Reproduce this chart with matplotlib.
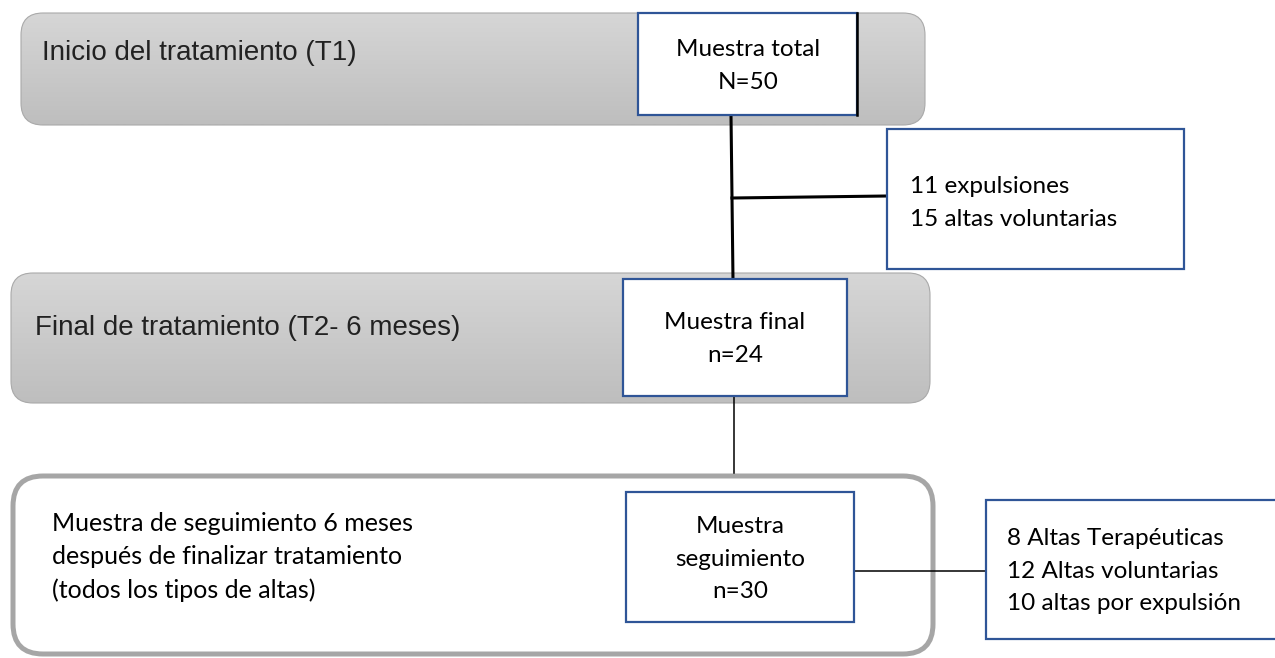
import numpy as np
import matplotlib.pyplot as plt
from matplotlib.colors import LinearSegmentedColormap
from matplotlib.patches import FancyBboxPatch, Rectangle

# sample sizes
n_total = 50
n_expulsiones = 11
n_altas_vol = 15
n_final = 24
n_seguimiento = 30
seg_terapeuticas = 8
seg_voluntarias = 12
seg_expulsion = 10

phase_labels = ['Inicio del tratamiento (T1)',
                'Final de tratamiento (T2- 6 meses)',
                'Muestra de seguimiento 6 meses\ndespués de finalizar tratamiento\n(todos los tipos de altas)']
sample_labels = [f'Muestra total\nN={n_total}',
                 f'Muestra final\nn={n_final}',
                 f'Muestra\nseguimiento\nn={n_seguimiento}']
loss_lines = [f'{n_expulsiones} expulsiones', f'{n_altas_vol} altas voluntarias']
discharge_lines = [f'{seg_terapeuticas} Altas Terapéuticas',
                   f'{seg_voluntarias} Altas voluntarias',
                   f'{seg_expulsion} altas por expulsión']

W, H = 1275, 658
fig = plt.figure(figsize=(W / 100, H / 100), dpi=100)
ax = fig.add_axes([0, 0, 1, 1])
ax.set_xlim(0, W)
ax.set_ylim(H, 0)
ax.axis('off')

arial = ['Liberation Sans', 'DejaVu Sans']
calibri = ['Lato', 'DejaVu Sans']
blue = '#2f5597'
fs = 17.5
ls = 1.68

# vertical gradient for the grey phase bands (light on top)
grad = np.linspace(0, 1, 100).reshape(-1, 1)
grey_cmap = LinearSegmentedColormap.from_list('g', ['#d6d6d6', '#bebebe'])


def grey_band(x0, y0, x1, y1):
    p = FancyBboxPatch((x0, y0), x1 - x0, y1 - y0,
                       boxstyle='round,pad=0,rounding_size=22',
                       fc='none', ec='#a9a9a9', lw=0.8, zorder=2)
    ax.add_patch(p)
    im = ax.imshow(grad, cmap=grey_cmap, extent=(x0, x1, y1, y0),
                   aspect='auto', zorder=1)
    im.set_clip_path(p)


def white_box(x0, y0, x1, y1, lw=1.6):
    ax.add_patch(Rectangle((x0, y0), x1 - x0, y1 - y0, fc='white',
                           ec=blue, lw=lw, zorder=4))


# phase bands
grey_band(21, 13, 925, 125)
grey_band(11, 273, 930, 403)
ax.add_patch(FancyBboxPatch((13, 476), 920, 178,
                            boxstyle='round,pad=0,rounding_size=30',
                            fc='white', ec='#a6a6a6', lw=3.6, zorder=2))

ax.text(42, 53, phase_labels[0], fontsize=20, family=arial,
        color='#222222', va='center', zorder=5)
ax.text(35, 328, phase_labels[1], fontsize=20, family=arial,
        color='#222222', va='center', zorder=5)
ax.text(52, 557, phase_labels[2], fontsize=18, family=calibri,
        color='black', va='center', linespacing=1.52, zorder=5)

# connectors
ax.plot([731, 733], [115, 280], color='black', lw=2.2, zorder=3)
ax.plot([732, 887], [198, 196], color='black', lw=2.2, zorder=3)
ax.plot([734, 734], [395, 473], color='black', lw=1.1, zorder=3)
ax.plot([854, 986], [571, 571], color='black', lw=1.1, zorder=3)

# sample boxes
white_box(638, 13, 857, 115)
ax.plot([857, 857], [13, 115], color='black', lw=1.8, zorder=5)
ax.text(748, 66, sample_labels[0], fontsize=fs, family=calibri,
        ha='center', va='center', linespacing=ls, zorder=6)

white_box(887, 129, 1184, 269)
ax.text(910, 203, '\n'.join(loss_lines), fontsize=fs, family=calibri,
        ha='left', va='center', linespacing=ls, zorder=6)

white_box(623, 279, 847, 396)
ax.text(735, 339, sample_labels[1], fontsize=fs, family=calibri,
        ha='center', va='center', linespacing=ls, zorder=6)

white_box(626, 492, 854, 622)
ax.text(740, 559, sample_labels[2], fontsize=fs, family=calibri,
        ha='center', va='center', linespacing=ls, zorder=6)

white_box(986, 500, 1290, 639)
ax.text(1007, 571, '\n'.join(discharge_lines), fontsize=fs, family=calibri,
        ha='left', va='center', linespacing=ls, zorder=6)

fig.savefig('out.png', dpi=100)
